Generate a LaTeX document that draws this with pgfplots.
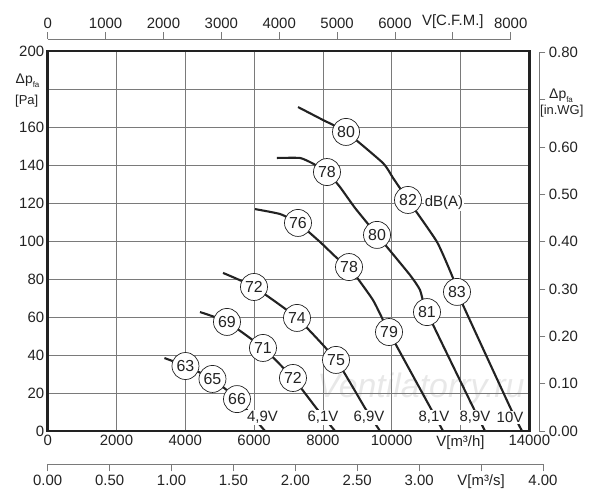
\documentclass[border=0pt]{standalone}
\usepackage{pgfplots}
\pgfplotsset{compat=1.18}
\usepackage{fontspec}
\setmainfont{Liberation Sans}
\definecolor{gridc}{HTML}{7A7A7A}
\definecolor{txt}{HTML}{222222}
\begin{document}
\begin{tikzpicture}
\useasboundingbox (0bp,0bp) rectangle (600bp,500bp);
% watermark
\node[font=\fontsize{34}{34}\selectfont\itshape, text=black!9] at (421bp,111bp) {Ventilatorry.ru};
% main axis
\begin{axis}[
  at={(47.7bp,69bp)}, anchor=south west, scale only axis,
  width=481.6bp, height=380bp,
  xmin=0, xmax=14000, ymin=0, ymax=200,
  scaled x ticks=false, scaled y ticks=false,
  xtick={0,2000,...,14000},
  xticklabels={0,2000,4000,6000,8000,10000,V[m³/h],14000},
  ytick={0,20,...,200},
  yticklabels={0,20,40,60,80,100,120,140,160,{},200},
  grid=major, major grid style={gridc, line width=0.8bp},
  major tick length=0pt,
  axis line style={line width=2.6bp, txt},
  tick label style={font=\fontsize{15}{18}\selectfont, text=txt},
  xticklabel style={yshift=-1bp},
  clip=false,
]
\addplot[line width=2.1bp, txt, smooth, tension=0.3] table {
3394 38.4
4005 34.2
4790 27.4
5503 16.8
6317 0
};
\addplot[line width=2.1bp, txt, smooth, tension=0.3] table {
4427 62.6
5212 57.4
6258 43.7
7130 27.9
7828 11.6
8352 0
};
\addplot[line width=2.1bp, txt, smooth, tension=0.3] table {
5096 83.2
5997 75.8
7247 59.5
8381 37.4
9224 12.1
9660 0
};
\addplot[line width=2.1bp, txt, smooth, tension=0.3] table {
6026 116.8
6753 114.2
7276 109.5
7916 99.5
8410 91.0
8759 86.3
9456 68.9
9922 52.1
11114 12.6
11492 0
};
\addplot[line width=2.1bp, txt, smooth, tension=0.3] table {
6665 143.7
7334 143.7
7684 141.0
8119 136.3
8497 128.4
8933 117.4
9573 103.2
10532 82.1
10823 74.2
11026 62.6
12363 12.6
12712 0
};
\addplot[line width=2.1bp, txt, smooth, tension=0.3] table {
7276 170.5
8001 163.7
8672 157.4
9748 141.0
10038 133.2
10474 121.6
11317 99.5
11782 80.5
11898 73.2
13439 12.6
13788 0
};
% circled dB(A) values
\addplot[draw=none, mark=none, nodes near coords, point meta=explicit symbolic,
  nodes near coords align=center,
  every node near coord/.style={circle, draw=txt, line width=0.7bp, fill=white,
    minimum size=27bp, inner sep=0pt, anchor=center,
    font=\fontsize{16}{16}\selectfont, text=txt}]
  table[meta=label] {
x y label
4005 34.2 63
4790 27.4 65
5503 16.8 66
5212 57.4 69
6258 43.7 71
7130 27.9 72
5997 75.8 72
7247 59.5 74
8381 37.4 75
7276 109.5 76
8759 86.3 78
9922 52.1 79
8119 136.3 78
9573 103.2 80
11026 62.6 81
8672 157.4 80
10474 121.6 82
11898 73.2 83
};
% voltage labels
\addplot[draw=none, mark=none, nodes near coords, point meta=explicit symbolic,
  nodes near coords align=center,
  every node near coord/.style={fill=white, inner sep=1bp, anchor=center,
    font=\fontsize{15}{15}\selectfont, text=txt}]
  table[meta=label] {
x y label
6244 7.1 4,9V
8003 7.1 6,1V
9340 7.1 6,9V
11230 7.1 8,1V
12422 7.1 8,9V
13440 7.1 10V
};
\node[anchor=west, fill=white, inner sep=1bp, font=\fontsize{15}{15}\selectfont, text=txt]
  at (axis cs:10930,120) {dB(A)};
\end{axis}
% top CFM axis
\begin{axis}[
  at={(47.7bp,450.7bp)}, anchor=south west, scale only axis,
  width=463bp, height=10bp,
  xmin=0, xmax=8000, ymin=0, ymax=1,
  scaled x ticks=false,
  hide y axis, axis x line=top,
  x axis line style={-, gridc, line width=0.9bp},
  tick align=outside, major tick length=7bp,
  tick style={gridc, line width=0.9bp},
  xtick={0,1000,...,8000},
  xticklabels={0,1000,2000,3000,4000,5000,6000,V[C.F.M.],8000},
  tick label style={font=\fontsize{15}{18}\selectfont, text=txt},
]
\end{axis}
% bottom m3/s axis
\begin{axis}[
  at={(47.7bp,35.7bp)}, anchor=south west, scale only axis,
  width=495.3bp, height=10bp,
  xmin=0, xmax=4, ymin=0, ymax=1,
  scaled x ticks=false,
  hide y axis, axis x line=bottom,
  x axis line style={-, gridc, line width=0.9bp},
  tick align=outside, major tick length=7bp,
  tick style={gridc, line width=0.9bp},
  xtick={0,0.5,...,4},
  xticklabels={0.00,0.50,1.00,1.50,2.00,2.50,3.00,V[m³/s],4.00},
  tick label style={font=\fontsize{15}{18}\selectfont, text=txt},
]
\end{axis}
% right in.WG axis
\begin{axis}[
  at={(529.3bp,69bp)}, anchor=south west, scale only axis,
  width=10bp, height=378.6bp,
  xmin=0, xmax=1, ymin=0, ymax=0.8,
  scaled y ticks=false,
  hide x axis, axis y line=right,
  y axis line style={-, gridc, line width=0.9bp},
  tick align=outside, major tick length=6bp,
  tick style={gridc, line width=0.9bp},
  ytick={0,0.1,...,0.8},
  yticklabels={0.00,0.10,0.20,0.30,0.40,0.50,0.60,{},0.80},
  tick label style={font=\fontsize{15}{18}\selectfont, text=txt},
]
\end{axis}
% axis titles
\node[anchor=base west, inner sep=0pt, text=txt, font=\fontsize{14}{14}\selectfont] at (15.5bp,416bp) {Δp\raisebox{-0.25em}{\fontsize{8}{8}\selectfont fa}};
\node[anchor=base west, inner sep=0pt, text=txt, font=\fontsize{13}{13}\selectfont] at (15bp,395bp) {[Pa]};
\node[anchor=base west, inner sep=0pt, text=txt, font=\fontsize{14}{14}\selectfont] at (549bp,401bp) {Δp\raisebox{-0.25em}{\fontsize{8}{8}\selectfont fa}};
\node[anchor=base west, inner sep=0pt, text=txt, font=\fontsize{13}{13}\selectfont] at (540bp,385bp) {[in.WG]};
\end{tikzpicture}
\end{document}
